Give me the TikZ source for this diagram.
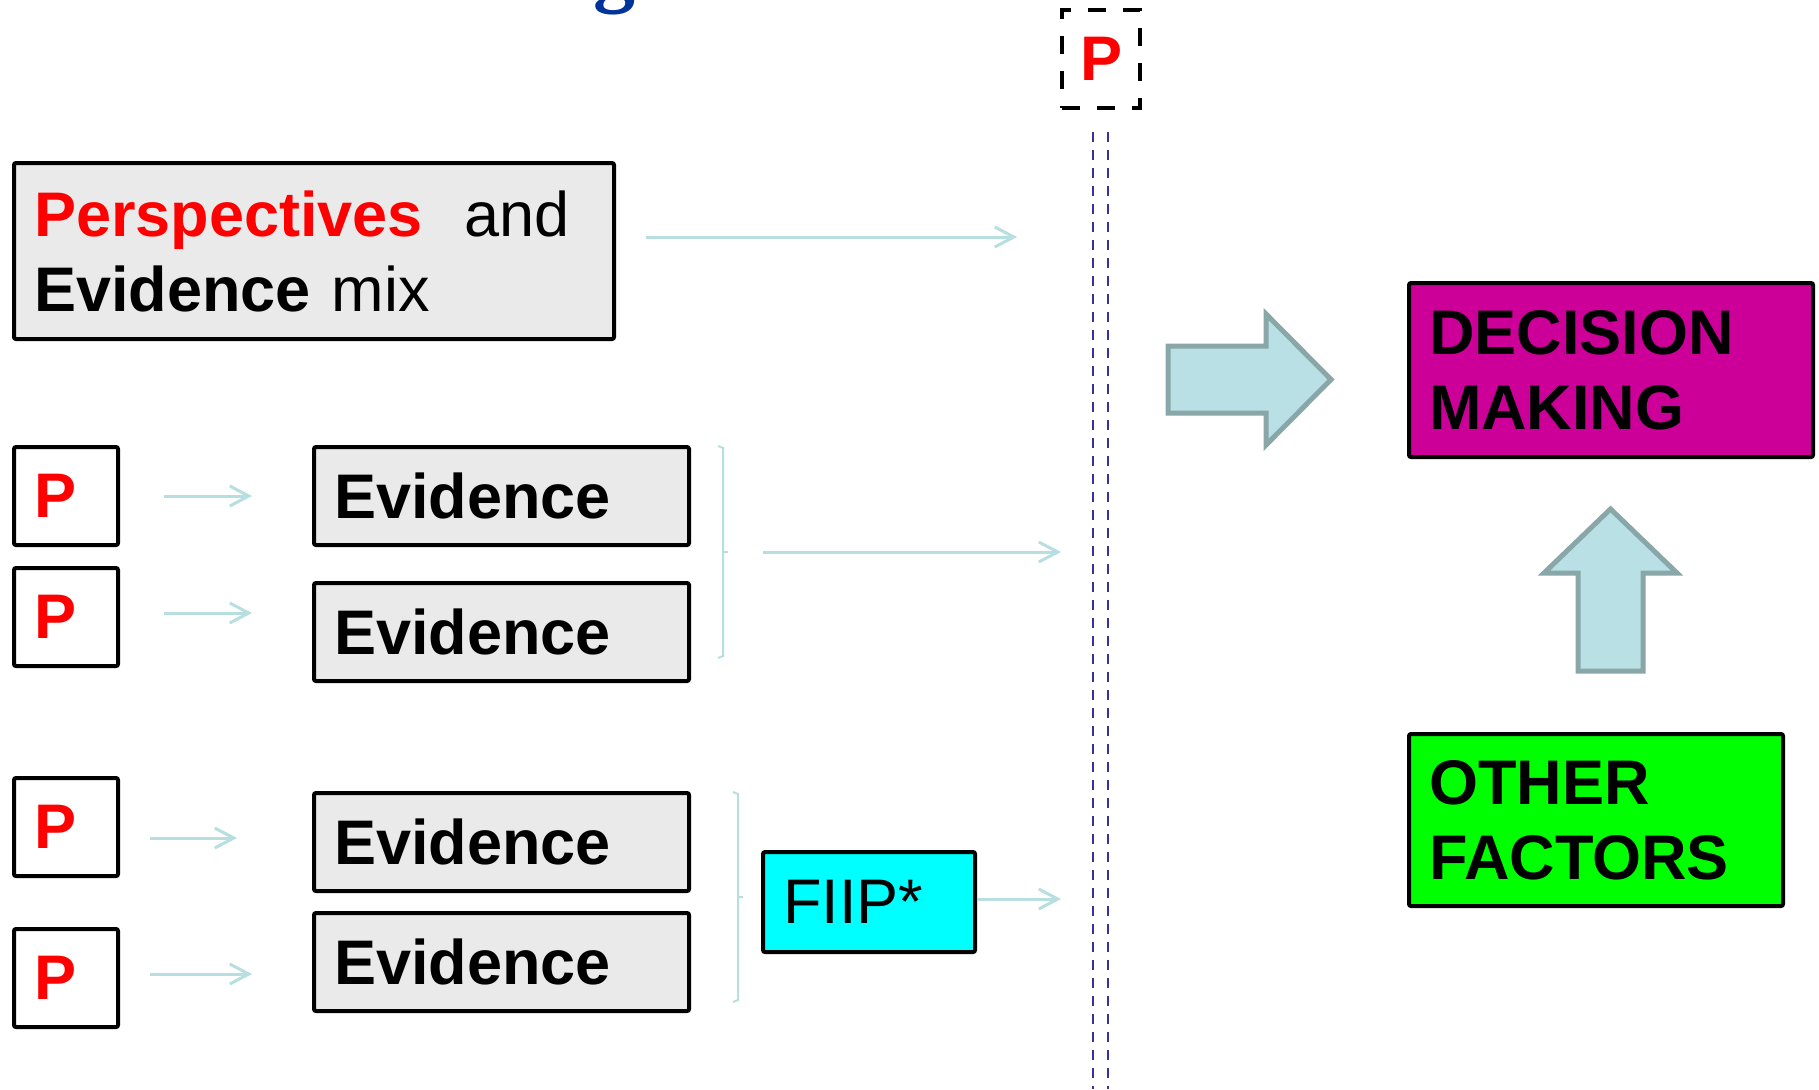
\documentclass[tikz,border=0pt]{standalone}
\usepackage{fontspec}
\setmainfont{Liberation Sans}
\newfontfamily\titlefont{Liberation Serif}
\usetikzlibrary{arrows.meta,positioning}

\definecolor{boxgray}{RGB}{234,234,234}
\definecolor{linkteal}{RGB}{183,222,225}
\definecolor{arrowfill}{RGB}{185,224,228}
\definecolor{arrowedge}{RGB}{137,166,168}
\definecolor{pred}{RGB}{255,0,0}
\definecolor{decmagenta}{RGB}{204,0,153}
\definecolor{factgreen}{RGB}{0,255,0}
\definecolor{fiipcyan}{RGB}{0,255,255}
\definecolor{lineblue}{RGB}{51,51,153}
\definecolor{titleblue}{RGB}{0,51,153}

\newcommand\bigfont{\fontsize{31.5}{37.5}\selectfont}

\tikzset{
  card/.style={draw, line width=2pt, rounded corners=1pt, anchor=north west,
    inner xsep=10pt, inner ysep=0pt, align=left, font=\bigfont},
  pbox/.style={card, fill=white, text=pred, text width=32pt, minimum height=49pt, font=\bigfont\bfseries},
  evbox/.style={card, fill=boxgray, text width=167.5pt, minimum height=49pt, font=\bigfont\bfseries},
  link/.style={draw=linkteal, line width=1.5pt, -{Straight Barb[length=9.5pt,width=10pt]}},
  brace/.style={draw=linkteal, line width=1pt},
  divider/.style={draw=lineblue, line width=1.25pt, dash pattern=on 5pt off 4pt},
  bigarrow/.style={fill=arrowfill, draw=arrowedge, line width=2.5pt, line join=miter}
}

\begin{document}
\begin{tikzpicture}[x=0.5pt, y=-0.5pt]
    \useasboundingbox (0,0) rectangle (1819,1089);

    % Cut title
    \node [anchor=base, text=titleblue, font=\titlefont\fontsize{42}{42}\selectfont\bfseries] (title) at (614,-4) {g};

    % Perspectives and evidence mix
    \node [card, fill=boxgray, text width=280pt, minimum height=88pt] (mix) at (12,161)
        {\textcolor{pred}{\textbf{Perspectives}}~ and\\\textbf{Evidence} mix};

    % P and evidence rows
    \node [pbox] (p1) at (12,445) {P};
    \node [pbox] (p2) at (12,566) {P};
    \node [pbox] (p3) at (12,776) {P};
    \node [pbox] (p4) at (12,927) {P};
    \node [evbox] (ev1) at (312,445) {Evidence};
    \node [evbox] (ev2) at (312,581) {Evidence};
    \node [evbox] (ev3) at (312,791) {Evidence};
    \node [evbox] (ev4) at (312,911) {Evidence};

    \draw [link] ([xshift=22pt]p1.east) -- ([xshift=-30pt]p1.east -| ev1.west);
    \draw [link] ([xshift=22pt, yshift=2pt]p2.east) -- ([xshift=-30pt, yshift=2pt]p2.east -| ev2.west);
    \draw [link] ([xshift=15pt, yshift=-5.5pt]p3.east) -- ([xshift=-37.5pt, yshift=-5.5pt]p3.east -| ev3.west);
    \draw [link] ([xshift=15pt, yshift=2pt]p4.east) -- ([xshift=-30pt, yshift=2pt]p4.east -| ev4.west);

    % FIIP
    \node [card, fill=fiipcyan, text width=86pt, minimum height=50pt] (fiip) at (761,850) {FIIP*};

    % Brackets
    \draw [brace] (718,446) -- (723,448) -- (723,656) -- (718,658) (723,552) -- (728,552);
    \coordinate (br1) at (728,552);
    \draw [brace] (733,792) -- (738,794) -- (738,1000) -- (733,1002) (738,897) -- (743,897);

    % Links to the line
    \coordinate (in0) at (1017,237);
    \coordinate (in1) at (1061,552);
    \draw [link] ([xshift=15pt]mix.east |- in0) -- (in0);
    \draw [link] ([xshift=17.5pt]br1) -- (in1);
    \draw [link] ([yshift=1.5pt]fiip.east) -- ([yshift=1.5pt]fiip.east -| in1);

    % Dashed P and double line
    \node [draw, dash pattern=on 9pt off 8.5pt, line width=2pt, minimum width=39pt, minimum height=49pt,
        inner sep=0pt, text=pred, font=\bigfont\bfseries] (ptop) at (1101,59) {P};
    \draw [divider] (1093,132) -- (1093,1089);
    \draw [divider] (1108,132) -- (1108,1089);

    % Decision making and other factors
    \node [card, fill=decmagenta, text width=182pt, minimum height=87pt, font=\bigfont\bfseries] (dec) at (1407,281)
        {DECISION\\MAKING};
    \node [card, fill=factgreen, text width=167pt, minimum height=86pt, font=\bigfont\bfseries] (other) at (1407,732)
        {OTHER\\FACTORS};

    % Block arrows
    \draw [bigarrow] (1168,346) -- (1266,346) -- (1266,314) -- (1331,379.5) -- (1266,445) -- (1266,413) -- (1168,413) -- cycle;
    \draw [bigarrow] (1578,671) -- (1578,573) -- (1544,573) -- (1610.5,509) -- (1677,573) -- (1643,573) -- (1643,671) -- cycle;
\end{tikzpicture}
\end{document}
